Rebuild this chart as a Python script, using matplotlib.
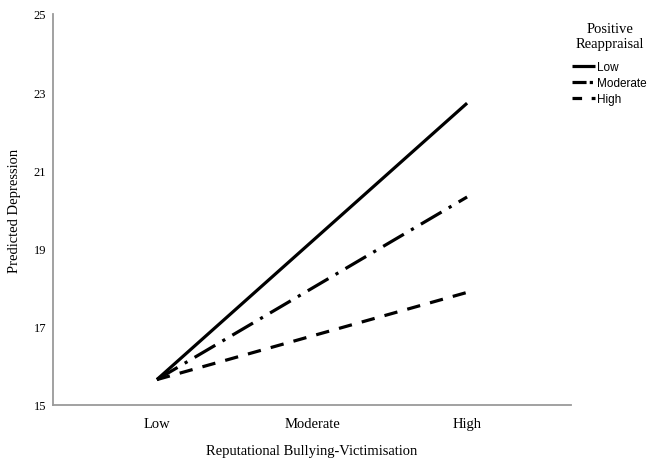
import matplotlib
matplotlib.use('Agg')
import matplotlib.pyplot as plt
from matplotlib.lines import Line2D

categories = ['Low', 'Moderate', 'High']
endpoint_positions = [0, 2]
low_reappraisal = [15.65, 22.72]
moderate_reappraisal = [15.65, 20.32]
high_reappraisal = [15.65, 17.88]
series_labels = ['Low', 'Moderate', 'High']
y_ticks = [15, 17, 19, 21, 23, 25]

serif = 'Liberation Serif'
sans = 'Liberation Sans'

fig = plt.figure(figsize=(6.51, 4.6), dpi=100)
ax = fig.add_axes([53 / 651, 1 - 406 / 460, (571 - 53) / 651, (406 - 15) / 460])

lw = 2.3
styles = ['solid', (0, (7.5, 2.6, 1.0, 2.6)), (0, (4.2, 3.2))]
legend_styles = ['solid', (0, (4.4, 1.0, 1.0, 1.0)), (0, (3.0, 3.0))]

for values, style, label in zip([low_reappraisal, moderate_reappraisal, high_reappraisal],
                                styles, series_labels):
    ax.plot(endpoint_positions, values, color='black', lw=lw, linestyle=style,
            solid_capstyle='butt', dash_capstyle='butt', label=label)

ax.set_xlim(-0.67, 2.67)
ax.set_ylim(15, 25)
ax.set_xticks(range(len(categories)))
ax.set_xticklabels(categories, fontfamily=serif, fontsize=10.5)
ax.set_yticks(y_ticks)
ax.set_yticklabels([str(v) for v in y_ticks], fontfamily=serif, fontsize=9)
ax.tick_params(axis='both', length=0)
ax.tick_params(axis='x', pad=9)
ax.tick_params(axis='y', pad=5)

for side in ('top', 'right'):
    ax.spines[side].set_visible(False)
for side in ('left', 'bottom'):
    ax.spines[side].set_color('#9a9a9a')
    ax.spines[side].set_linewidth(1.3)

ax.set_xlabel('Reputational Bullying-Victimisation', fontfamily=serif, fontsize=10.5, labelpad=10)
ax.set_ylabel('Predicted Depression', fontfamily=serif, fontsize=10.5, labelpad=9)

# legend title drawn separately so it sits centred above the entries
fig.text(610 / 651, 1 - 37 / 460, 'Positive\nReappraisal', fontfamily=serif, fontsize=10.5,
         ha='center', va='center', multialignment='center', linespacing=1.15)

handles = [Line2D([], [], color='black', lw=lw, linestyle=s, solid_capstyle='butt',
                  dash_capstyle='butt') for s in legend_styles]
fig.legend(handles, series_labels, loc='upper left',
           bbox_to_anchor=(572 / 651, 1 - 62 / 460),
           frameon=False, prop={'family': sans, 'size': 8.5},
           handlelength=1.95, handletextpad=0.2, labelspacing=0.35,
           borderpad=0, borderaxespad=0)

fig.savefig('out.png', dpi=100)
